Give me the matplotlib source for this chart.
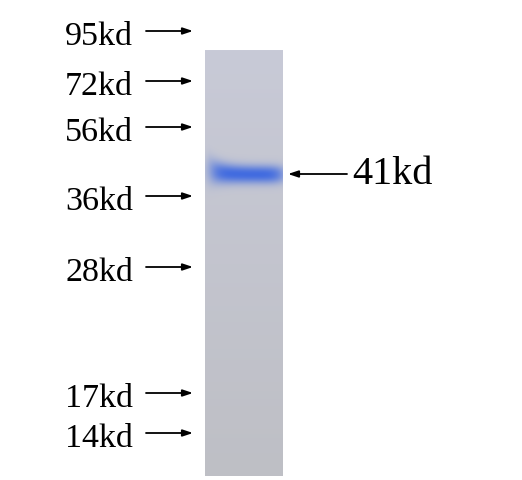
import matplotlib.pyplot as plt
import numpy as np

# marker ladder (label, y position of arrow in px)
marker_labels = ["95kd", "72kd", "56kd", "36kd", "28kd", "17kd", "14kd"]
marker_y = [31, 81, 127, 196, 267, 393, 433]
band_label = "41kd"
band_y = 174

# lane extents in px
lane_x = (205, 283)
lane_y = (50, 476)

fig = plt.figure(figsize=(5.22, 4.8), dpi=100)
ax = fig.add_axes([0, 0, 1, 1])
ax.set_xlim(0, 522)
ax.set_ylim(480, 0)
ax.axis("off")

# lane image: light bluish gray, a bit grayer toward the bottom
h = lane_y[1] - lane_y[0]
w = lane_x[1] - lane_x[0]
yy, xx = np.mgrid[0:h, 0:w]
t = yy / h
img = np.zeros((h, w, 3))
img[..., 0] = 200 - 10 * t
img[..., 1] = 202 - 11 * t
img[..., 2] = 215 - 18 * t

# protein band
by = band_y - lane_y[0]
bx0, bx1 = 209 - lane_x[0], 284 - lane_x[0]
xc = np.clip((xx - bx0) / (bx1 - bx0), 0, 1)
centre = by - 4 * np.exp(-xc * 6)
thick = 9 + 5 * np.exp(-xc * 7)
inside = np.exp(-((xx - (bx0 + bx1) / 2) / ((bx1 - bx0) / 2)) ** 6)
strength = np.exp(-np.abs((yy - centre) / thick) ** 2.2) * inside
band_col = np.array([55, 100, 225])
for c in range(3):
    img[..., c] = img[..., c] * (1 - 0.92 * strength) + band_col[c] * 0.92 * strength
ax.imshow(img.astype(np.uint8), extent=(lane_x[0], lane_x[1], lane_y[1], lane_y[0]),
          interpolation="bilinear", zorder=1)

arrow = dict(arrowstyle="-|>,head_length=0.6,head_width=0.2", color="black", lw=1.3,
             shrinkA=0, shrinkB=0)
for lab, y in zip(marker_labels, marker_y):
    ax.text(133, y + 6, lab, ha="right", va="center", fontsize=24.5,
            family="Liberation Serif", color="black")
    ax.annotate("", xy=(193, y), xytext=(146, y), arrowprops=arrow)

ax.annotate("", xy=(288, band_y), xytext=(347, band_y), arrowprops=arrow)
ax.text(352, band_y, band_label, ha="left", va="center", fontsize=29,
        family="Liberation Serif", color="black")

fig.savefig("out.png", dpi=100)
